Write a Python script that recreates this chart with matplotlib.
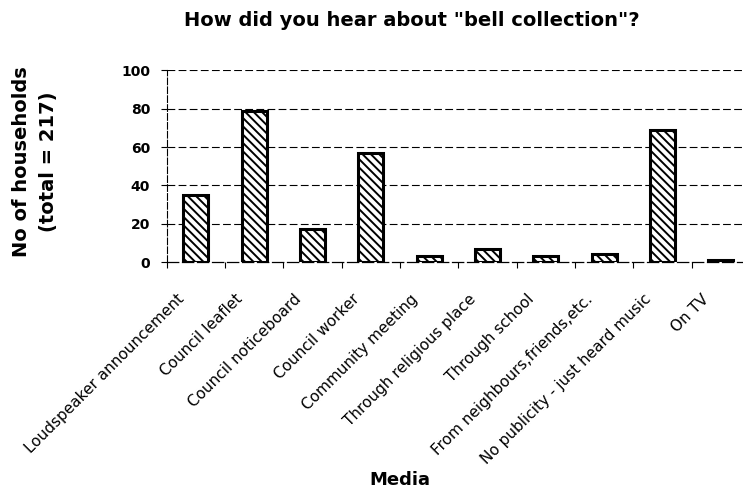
import matplotlib
matplotlib.use("Agg")
import matplotlib.pyplot as plt
import matplotlib.transforms as mtransforms
import numpy as np

categories = [
    "Loudspeaker announcement",
    "Council leaflet",
    "Council noticeboard",
    "Council worker",
    "Community meeting",
    "Through religious place",
    "Through school",
    "From neighbours,friends,etc.",
    "No publicity - just heard music",
    "On TV",
]
households = [35, 79, 17, 57, 3, 7, 3, 4, 69, 1]
y_ticks = [0, 20, 40, 60, 80, 100]

plt.rcParams["font.family"] = ["DejaVu Sans"]
plt.rcParams["hatch.linewidth"] = 1.4
plt.rcParams["hatch.color"] = "black"

W, H = 743, 490
fig = plt.figure(figsize=(W / 100, H / 100), dpi=100)
ax = fig.add_axes([166.7 / W, 1 - 262 / H, (750 - 166.7) / W, (262 - 70.5) / H])

x = np.arange(len(categories))
ax.bar(x, households, width=0.43, color="white", edgecolor="black",
       linewidth=2.2, hatch="\\\\\\\\", zorder=3)

ax.set_xlim(-0.5, len(categories) - 0.5)
ax.set_ylim(0, 100)

# dashed horizontal grid
ax.set_yticks(y_ticks)
for v in y_ticks[1:]:
    ax.axhline(v, color="black", lw=0.8, ls=(0, (7, 3)), zorder=1)

for side in ("top", "right"):
    ax.spines[side].set_visible(False)
ax.spines["left"].set_linewidth(0.8)
ax.spines["left"].set_linestyle((0, (6, 2)))
ax.spines["bottom"].set_linewidth(0.9)
ax.spines["bottom"].set_linestyle((0, (9, 3)))

ax.tick_params(axis="y", direction="out", length=4, width=0.8,
               labelsize=10, pad=8)
for lbl in ax.get_yticklabels():
    lbl.set_fontweight("bold")

# category boundaries carry the tick marks
ax.set_xticks(np.arange(-0.5, len(categories) + 0.5, 1.0), minor=True)
ax.tick_params(axis="x", which="minor", direction="out", length=4, width=0.8)
ax.set_xticks(x)
ax.set_xticklabels(categories, rotation=45, ha="right", va="center",
                   rotation_mode="anchor", fontsize=11)
ax.tick_params(axis="x", which="major", length=0, pad=25)
shift = mtransforms.ScaledTranslation(-14 / 100, 0, fig.dpi_scale_trans)
for lbl in ax.get_xticklabels():
    lbl.set_transform(lbl.get_transform() + shift)

fig.text(412 / W, 1 - 21 / H, 'How did you hear about "bell collection"?',
         ha="center", va="center", fontsize=14, fontweight="bold")
fig.text(399.5 / W, 1 - 480 / H, "Media", ha="center", va="center",
         fontsize=13, fontweight="bold")
fig.text(35 / W, 1 - 162 / H, "No of households\n(total = 217)",
         ha="center", va="center", rotation=90, fontsize=14,
         fontweight="bold", linespacing=1.5, multialignment="center")

fig.savefig("out.png", dpi=100)
